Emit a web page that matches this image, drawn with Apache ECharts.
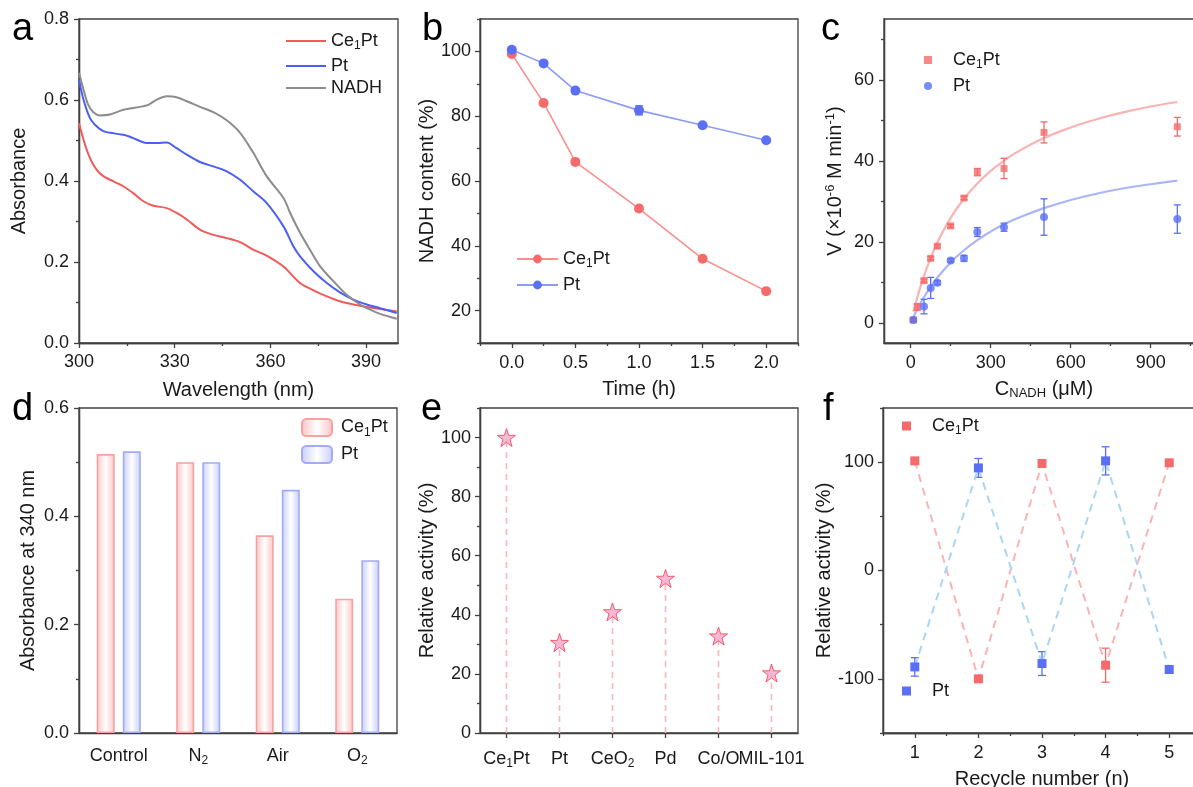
<!DOCTYPE html>
<html><head><meta charset="utf-8">
<script src="https://cdn.jsdelivr.net/npm/echarts@6/dist/echarts.min.js"></script>
<style>html,body{margin:0;padding:0;background:#fff}#c{width:1193px;height:787px}</style>
</head><body><div id="c"></div>
<script>
// ================= DATA =================
// Panel a: UV-vis spectra [wavelength nm, absorbance]
const aCe1Pt = [[300,0.543],[301.4,0.502],[303.4,0.457],[305.5,0.428],[307.6,0.412],[310.8,0.399],[313.9,0.387],[317.0,0.370],[320.2,0.350],[323.3,0.339],[327.5,0.333],[330.6,0.321],[333.8,0.305],[337.9,0.280],[342.1,0.267],[346.3,0.259],[350.5,0.249],[354.7,0.230],[358.8,0.216],[364.1,0.189],[369.3,0.148],[373.5,0.130],[377.7,0.115],[381.8,0.103],[386.0,0.095],[390.2,0.089],[394.4,0.084],[399.6,0.078]];
const aPt = [[300,0.650],[301.4,0.601],[303.4,0.556],[305.5,0.535],[307.6,0.523],[309.7,0.519],[313.9,0.514],[317.0,0.506],[321.2,0.494],[324.4,0.494],[327.5,0.495],[330.6,0.481],[333.8,0.465],[337.9,0.447],[342.1,0.436],[346.3,0.424],[350.5,0.403],[354.7,0.374],[358.8,0.346],[364.1,0.288],[367.2,0.239],[369.3,0.214],[373.5,0.177],[377.7,0.148],[381.8,0.125],[386.0,0.107],[390.2,0.095],[394.4,0.086],[399.6,0.074]];
const aNADH = [[300,0.667],[301.4,0.626],[302.9,0.588],[304.5,0.570],[306.6,0.562],[309.7,0.564],[313.9,0.576],[319.1,0.583],[321.7,0.588],[324.4,0.601],[327.5,0.609],[330.6,0.607],[333.8,0.597],[337.9,0.583],[342.1,0.570],[346.3,0.550],[350.5,0.519],[354.7,0.469],[358.8,0.412],[364.1,0.358],[366.2,0.321],[369.3,0.272],[372.4,0.230],[375.6,0.189],[379.8,0.152],[383.9,0.119],[388.1,0.095],[390.2,0.086],[394.4,0.072],[399.6,0.060]];
const aXMajor = [300,330,360,390], aXMinor = [315,345,375];
const aYMajor = [0,0.2,0.4,0.6,0.8], aYMinor = [0.1,0.3,0.5,0.7];

// Panel b: NADH content vs time
const bTime = [0, 0.25, 0.5, 1.0, 1.5, 2.0];
const bCe1Pt = [99.2, 84.1, 65.9, 51.5, 36.0, 26.0];
const bPt = [100.5, 96.3, 87.9, 81.8, 77.2, 72.6];
const bPtErr = [0.5, 0.5, 0.5, 1.4, 0.5, 0.5];
const bXMajor = [0,0.5,1.0,1.5,2.0], bXMinor = [-0.25,0.25,0.75,1.25,1.75,2.25];
const bYMajor = [20,40,60,80,100], bYMinor = [10,30,50,70,90,110];

// Panel c: kinetics
const cConcCe1Pt = [10, 25, 50, 75, 100, 150, 200, 250, 350, 500, 1000];
const cCe1Pt = [0.7, 3.9, 10.4, 15.9, 18.9, 23.9, 30.8, 37.2, 38.1, 47.0, 48.4];
const cCe1PtErr = [0.5, 0.8, 0.4, 0.4, 0.4, 0.4, 0.4, 0.9, 2.5, 2.6, 2.3];
const cConcPt = [10, 50, 75, 100, 150, 200, 250, 350, 500, 1000];
const cPt = [0.7, 4.0, 8.6, 9.9, 15.4, 15.9, 22.4, 23.6, 26.1, 25.6];
const cPtErr = [0.4, 1.8, 2.6, 0.5, 0.4, 0.7, 1.1, 1.0, 4.5, 3.5];
const cFitConc = [10, 25, 50, 75, 100, 150, 200, 250, 300, 350, 400, 500, 600, 700, 800, 900, 1000];
const cFitCe1Pt = [2.7, 6.3, 11.6, 16.0, 19.8, 25.9, 30.6, 34.4, 37.5, 40.0, 42.2, 45.6, 48.2, 50.3, 52.0, 53.4, 54.5];
const cFitPt = [1.4, 3.4, 6.3, 8.8, 11.1, 14.9, 17.9, 20.4, 22.5, 24.3, 25.8, 28.3, 30.3, 31.9, 33.2, 34.2, 35.1];
const cXMajor = [0,300,600,900], cXMinor = [150,450,750,1050];
const cYMajor = [0,20,40,60], cYMinor = [10,30,50,70];

// Panel d: absorbance at 340 nm
const dCats = ['Control', 'N2', 'Air', 'O2'];
const dCe1Pt = [0.515, 0.500, 0.365, 0.248];
const dPt = [0.520, 0.500, 0.449, 0.319];
const dYMajor = [0,0.2,0.4,0.6], dYMinor = [0.1,0.3,0.5];

// Panel e: relative activity
const eCats = ['Ce1Pt', 'Pt', 'CeO2', 'Pd', 'Co/O', 'MIL-101'];
const eVals = [100, 30.6, 41.0, 52.3, 32.8, 20.3];
const eYMajor = [0,20,40,60,80,100], eYMinor = [10,30,50,70,90,110];

// Panel f: recycling
const fCycle = [1, 2, 3, 4, 5];
const fCe1Pt = [101.2, -100, 98.8, -87.4, 99.4];
const fCe1PtErr = [2, 1, 1, 15.7, 1];
const fPt = [-89, 94.7, -85.9, 101.2, -91.4];
const fPtErr = [8.5, 8.7, 11, 13, 3];
const fXMajor = [1,2,3,4,5], fXMinor = [0.5,1.5,2.5,3.5,4.5,5.5];
const fYMajor = [-100,0,100], fYMinor = [-150,-50,50,150];

// ================= STYLE =================
const FONT = '"Liberation Sans", Arial, Helvetica, sans-serif';
const AX = '#404040', TXT = '#1a1a1a';
const RED = '#f66a6a', BLUE = '#5a6ff5';
const SQUARE = 'path://M0,0L10,0L10,10L0,10Z';
const rich = {
  n: {fontSize: 18, fontFamily: FONT, color: TXT, lineHeight: 22},
  s: {fontSize: 12, fontFamily: FONT, color: TXT, lineHeight: 12, verticalAlign: 'bottom'},
  p: {fontSize: 12, fontFamily: FONT, color: TXT, lineHeight: 12, verticalAlign: 'top'}
};
const richName = {
  n: {fontSize: 20, fontFamily: FONT, color: TXT, lineHeight: 22},
  s: {fontSize: 13, fontFamily: FONT, color: TXT, lineHeight: 13, verticalAlign: 'bottom'},
  p: {fontSize: 13, fontFamily: FONT, color: TXT, lineHeight: 13, verticalAlign: 'top'}
};
function chem(n) {
  const map = {'Ce1Pt': '{n|Ce}{s|1}{n|Pt}', 'CeO2': '{n|CeO}{s|2}', 'N2': '{n|N}{s|2}', 'O2': '{n|O}{s|2}'};
  return map[n] || '{n|' + n + '}';
}

const grids = [
  {left: 79, top: 19, width: 319, height: 324},
  {left: 480, top: 19, width: 318, height: 324},
  {left: 884, top: 19, width: 320, height: 324},
  {left: 79, top: 408, width: 318, height: 325},
  {left: 480, top: 408, width: 318, height: 325},
  {left: 883, top: 408, width: 318, height: 325}
].map(g => Object.assign(g, {show: true, containLabel: false, outerBoundsMode: 'none', borderColor: AX, borderWidth: 1.3, backgroundColor: 'transparent'}));

const xAxes = [], yAxes = [];
function valAxes(list, pos, gi, min, max, major, minor, fmt, name, nameGap, margin) {
  const idx = list.length;
  list.push({
    type: 'value', gridIndex: gi, position: pos, min: min, max: max,
    axisLine: {show: true, onZero: false, lineStyle: {color: AX, width: 1.3}},
    axisTick: {show: true, customValues: major, length: 5, lineStyle: {color: AX, width: 1.3}},
    axisLabel: {show: true, customValues: major, formatter: fmt, color: TXT, fontSize: 18, fontFamily: FONT, margin: margin},
    splitLine: {show: false},
    name: name, nameLocation: 'middle', nameGap: nameGap,
    nameTextStyle: {fontSize: 20, fontFamily: FONT, color: TXT, rich: richName}
  });
  list.push({
    type: 'value', gridIndex: gi, position: pos, offset: 0, min: min, max: max,
    axisLine: {show: true, onZero: false, lineStyle: {color: AX, width: 1.3}},
    axisLabel: {show: true, customValues: minor, formatter: () => '', margin: margin},
    splitLine: {show: false},
    axisTick: {show: true, customValues: minor, length: 3, lineStyle: {color: AX, width: 1.3}}
  });
  return idx;
}
const f1 = v => v.toFixed(1);
const f0 = v => String(v);

// a
const ax = valAxes(xAxes, 'bottom', 0, 300, 400, aXMajor, aXMinor, f0, 'Wavelength (nm)', 37, 10);
const ay = valAxes(yAxes, 'left', 0, 0, 0.8, aYMajor, aYMinor, f1, 'Absorbance', 50, 10);
// b
const bx = valAxes(xAxes, 'bottom', 1, -0.25, 2.25, bXMajor, bXMinor, f1, 'Time (h)', 36, 11);
const by = valAxes(yAxes, 'left', 1, 10, 110, bYMajor, bYMinor, f0, 'NADH content (%)', 43, 9);
// c
const cx = valAxes(xAxes, 'bottom', 2, -100, 1100, cXMajor, cXMinor, f0, '{n|C}{s|NADH}{n| (μM)}', 35, 11);
const cy = valAxes(yAxes, 'left', 2, -5, 75, cYMajor, cYMinor, f0, '{n|V (×10}{p|-6}{n| M min}{p|-1}{n|)}', 38, 10);
// d
const dx = xAxes.length;
xAxes.push({
  type: 'category', gridIndex: 3, position: 'bottom', data: dCats,
  axisLine: {show: true, onZero: false, lineStyle: {color: AX, width: 1.3}},
  axisTick: {show: false},
  axisLabel: {interval: 0, formatter: chem, rich: rich, margin: 12}
});
const dy = valAxes(yAxes, 'left', 3, 0, 0.6, dYMajor, dYMinor, f1, 'Absorbance at 340 nm', 41, 10);
// e
const ex = xAxes.length;
xAxes.push({
  type: 'category', gridIndex: 4, position: 'bottom', data: eCats,
  axisLine: {show: true, onZero: false, lineStyle: {color: AX, width: 1.3}},
  axisTick: {show: true, alignWithLabel: true, length: 5, lineStyle: {color: AX, width: 1.3}},
  axisLabel: {interval: 0, formatter: chem, rich: rich, margin: 15}
});
const ey = valAxes(yAxes, 'left', 4, 0, 110, eYMajor, eYMinor, f0, 'Relative activity (%)', 43, 9);
// f
const fx = valAxes(xAxes, 'bottom', 5, 0.5, 5.5, fXMajor, fXMinor, f0, 'Recycle number (n)', 36, 11);
const fy = valAxes(yAxes, 'left', 5, -150, 150, fYMajor, fYMinor, f0, 'Relative activity (%)', 47, 9);

function errSeries(xi, yi, xs, ys, es, color, cap) {
  return {
    type: 'custom', xAxisIndex: xi, yAxisIndex: yi, silent: true, z: 3,
    data: xs.map((x, i) => [x, ys[i], es[i]]),
    encode: {x: 0, y: 1},
    renderItem: function (params, api) {
      const x = api.value(0), y = api.value(1), e = api.value(2);
      const p1 = api.coord([x, y + e]), p2 = api.coord([x, y - e]);
      const st = {stroke: color, lineWidth: 1.3, fill: null};
      return {type: 'group', children: [
        {type: 'line', shape: {x1: p1[0], y1: p1[1], x2: p2[0], y2: p2[1]}, style: st},
        {type: 'line', shape: {x1: p1[0] - cap, y1: p1[1], x2: p1[0] + cap, y2: p1[1]}, style: st},
        {type: 'line', shape: {x1: p2[0] - cap, y1: p2[1], x2: p2[0] + cap, y2: p2[1]}, style: st}
      ]};
    }
  };
}
const zip = (xs, ys) => xs.map((x, i) => [x, ys[i]]);
const STAR = 'path://M50,2 L61.5,36 L97.5,36 L68.5,57.5 L79.5,92 L50,71 L20.5,92 L31.5,57.5 L2.5,36 L38.5,36 Z';
const barGrad = c => ({type: 'linear', x: 0, y: 0, x2: 1, y2: 0, colorStops: [
  {offset: 0, color: c}, {offset: 0.5, color: '#ffffff'}, {offset: 1, color: c}]});

const series = [
  // a
  {type: 'line', name: 'Ce1Pt', xAxisIndex: ax, yAxisIndex: ay, data: aCe1Pt, smooth: 0.3, symbol: 'none', lineStyle: {color: '#f25a5a', width: 2}, itemStyle: {color: '#f25a5a'}},
  {type: 'line', name: 'Pt', xAxisIndex: ax, yAxisIndex: ay, data: aPt, smooth: 0.3, symbol: 'none', lineStyle: {color: '#4b5ef5', width: 2}, itemStyle: {color: '#4b5ef5'}},
  {type: 'line', name: 'NADH', xAxisIndex: ax, yAxisIndex: ay, data: aNADH, smooth: 0.3, symbol: 'none', lineStyle: {color: '#8c8c8c', width: 2}, itemStyle: {color: '#8c8c8c'}},
  // b
  {type: 'line', name: 'b-Ce1Pt', xAxisIndex: bx, yAxisIndex: by, data: zip(bTime, bCe1Pt), symbol: 'circle', symbolSize: 10, lineStyle: {color: '#f89090', width: 1.6}, itemStyle: {color: RED}},
  {type: 'line', name: 'b-Pt', xAxisIndex: bx, yAxisIndex: by, data: zip(bTime, bPt), symbol: 'circle', symbolSize: 10, lineStyle: {color: '#8c9bf7', width: 1.6}, itemStyle: {color: BLUE}},
  errSeries(bx, by, bTime, bPt, bPtErr, BLUE, 4),
  // c
  {type: 'line', name: 'c-fit1', xAxisIndex: cx, yAxisIndex: cy, data: zip(cFitConc, cFitCe1Pt), smooth: true, symbol: 'none', lineStyle: {color: '#f9b3b3', width: 2.2}, z: 1},
  {type: 'line', name: 'c-fit2', xAxisIndex: cx, yAxisIndex: cy, data: zip(cFitConc, cFitPt), smooth: true, symbol: 'none', lineStyle: {color: '#aab6f7', width: 2.2}, z: 1},
  errSeries(cx, cy, cConcCe1Pt, cCe1Pt, cCe1PtErr, RED, 3.5),
  errSeries(cx, cy, cConcPt, cPt, cPtErr, BLUE, 3.5),
  {type: 'scatter', name: 'c-Ce1Pt', xAxisIndex: cx, yAxisIndex: cy, data: zip(cConcCe1Pt, cCe1Pt), symbol: 'rect', symbolSize: 7, itemStyle: {color: RED}, z: 4},
  {type: 'scatter', name: 'c-Pt', xAxisIndex: cx, yAxisIndex: cy, data: zip(cConcPt, cPt), symbol: 'circle', symbolSize: 8, itemStyle: {color: BLUE}, z: 4},
  // d
  {type: 'bar', name: 'd-Ce1Pt', xAxisIndex: dx, yAxisIndex: dy, data: dCe1Pt, barWidth: 18, barGap: '45%', itemStyle: {color: barGrad('#fcc4c4'), borderColor: '#f9a0a0', borderWidth: 1.6}},
  {type: 'bar', name: 'd-Pt', xAxisIndex: dx, yAxisIndex: dy, data: dPt, barWidth: 18, barGap: '45%', itemStyle: {color: barGrad('#c8cefb'), borderColor: '#a2abf8', borderWidth: 1.6}},
  // e
  {type: 'custom', xAxisIndex: ex, yAxisIndex: ey, silent: true, data: eVals.map((v, i) => [i, v]), encode: {x: 0, y: 1},
    renderItem: function (params, api) {
      const a = api.coord([api.value(0), 0]), b = api.coord([api.value(0), api.value(1)]);
      return {type: 'line', shape: {x1: a[0], y1: a[1], x2: b[0], y2: b[1]}, style: {stroke: '#f9b6bb', lineWidth: 1.6, lineDash: [6, 5]}};
    }},
  {type: 'scatter', name: 'e', xAxisIndex: ex, yAxisIndex: ey, data: eVals, symbol: STAR, symbolSize: 18, itemStyle: {color: '#f7a6c8', borderColor: '#f03c55', borderWidth: 1}, z: 4},
  // f
  {type: 'line', name: 'f-Ce1Pt', xAxisIndex: fx, yAxisIndex: fy, data: zip(fCycle, fCe1Pt), symbol: 'rect', symbolSize: 9, lineStyle: {color: '#f9b4b4', width: 2, type: [8, 6]}, itemStyle: {color: RED}},
  {type: 'line', name: 'f-Pt', xAxisIndex: fx, yAxisIndex: fy, data: zip(fCycle, fPt), symbol: 'rect', symbolSize: 9, lineStyle: {color: '#a9d6f7', width: 2, type: [8, 6]}, itemStyle: {color: BLUE}},
  errSeries(fx, fy, fCycle, fCe1Pt, fCe1PtErr, RED, 4),
  errSeries(fx, fy, fCycle, fPt, fPtErr, BLUE, 4)
];

const legTxt = {fontSize: 18, fontFamily: FONT, color: TXT, rich: rich};
function leg(name, label, left, top, extra) {
  return Object.assign({
    data: [name], left: left, top: top, orient: 'vertical', padding: 0, selectedMode: false,
    symbolKeepAspect: true,
    formatter: () => chem(label), textStyle: legTxt
  }, extra || {});
}
const padTxt = p => Object.assign({}, legTxt, {padding: [0, 0, 0, p]});
const LINEICON = 'path://M0,0L40,0L40,2L0,2Z';
const legends = [
  leg({name: 'Ce1Pt', icon: LINEICON}, 'Ce1Pt', 286, 32, {itemWidth: 40, itemHeight: 2}),
  leg({name: 'Pt', icon: LINEICON}, 'Pt', 286, 57, {itemWidth: 40, itemHeight: 2}),
  leg({name: 'NADH', icon: LINEICON}, 'NADH', 286, 79, {itemWidth: 40, itemHeight: 2}),
  leg('b-Ce1Pt', 'Ce1Pt', 516, 250, {itemWidth: 41, itemHeight: 11}),
  leg('b-Pt', 'Pt', 516, 276, {itemWidth: 41, itemHeight: 11}),
  leg({name: 'c-Ce1Pt', icon: SQUARE}, 'Ce1Pt', 924, 51, {itemWidth: 8, itemHeight: 8, textStyle: padTxt(16)}),
  leg({name: 'c-Pt', icon: 'circle'}, 'Pt', 924, 77, {itemWidth: 8, itemHeight: 8, textStyle: padTxt(16)}),
  leg('d-Ce1Pt', 'Ce1Pt', 301, 418, {itemWidth: 30, itemHeight: 17, textStyle: padTxt(4)}),
  leg('d-Pt', 'Pt', 301, 445, {itemWidth: 30, itemHeight: 17, textStyle: padTxt(4)}),
  leg({name: 'f-Ce1Pt', icon: SQUARE}, 'Ce1Pt', 902, 417, {itemWidth: 9, itemHeight: 9, textStyle: padTxt(16)}),
  leg({name: 'f-Pt', icon: SQUARE}, 'Pt', 902, 682, {itemWidth: 9, itemHeight: 9, textStyle: padTxt(16)})
];

const letter = (t, x, y) => ({type: 'text', x: x, y: y, style: {text: t, font: '38px ' + FONT, fill: '#000', verticalAlign: 'middle', align: 'left'}});
const graphic = [
  letter('a', 12, 30), letter('b', 422, 30), letter('c', 821, 30),
  letter('d', 12, 410), letter('e', 421, 410), letter('f', 823, 410)
];

const chart = echarts.init(document.getElementById('c'), null, {renderer: 'canvas'});
chart.setOption({
  animation: false,
  backgroundColor: '#ffffff',
  textStyle: {fontFamily: FONT},
  grid: grids, xAxis: xAxes, yAxis: yAxes, series: series, legend: legends, graphic: graphic
});
</script>
</body></html>
